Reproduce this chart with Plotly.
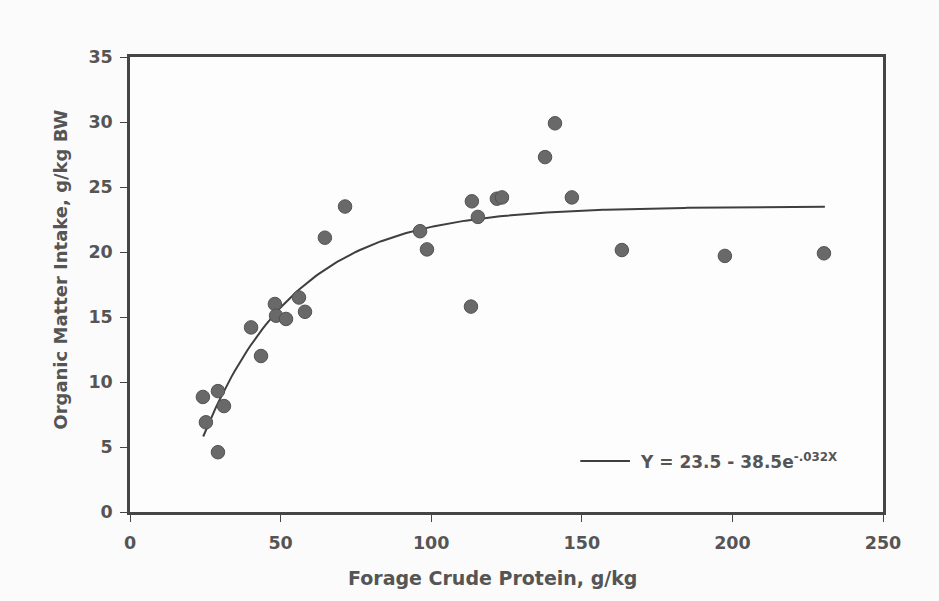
import numpy as np
import plotly.graph_objects as go

# Forage crude protein (g/kg) vs organic matter intake (g/kg BW)
crude_protein = [24.2, 25.2, 29.2, 29.2, 31.2, 40.2, 43.5, 48.1, 48.5, 51.8,
                 56.1, 58.1, 64.7, 71.4, 96.3, 98.6, 113.5, 113.2, 115.5,
                 121.8, 123.5, 137.8, 141.1, 146.7, 163.3, 197.5, 230.4]
om_intake = [8.85, 6.9, 9.3, 4.6, 8.15, 14.2, 12.0, 16.0, 15.1, 14.85,
             16.5, 15.4, 21.1, 23.5, 21.6, 20.2, 23.9, 15.8, 22.7,
             24.1, 24.2, 27.3, 29.9, 24.2, 20.15, 19.7, 19.9]

# Fitted model Y = a - b * exp(-k X)
fit_a, fit_b, fit_k = 23.5, 38.5, 0.032
fit_x = np.linspace(24.3, 230.7, 200)
fit_y = fit_a - fit_b * np.exp(-fit_k * fit_x)

x_ticks = [0, 50, 100, 150, 200, 250]
y_ticks = [0, 5, 10, 15, 20, 25, 30, 35]

ink = "#454545"
text_grey = "#555555"
sans = "DejaVu Sans, Verdana, sans-serif"

fig = go.Figure()
fig.add_trace(go.Scatter(
    x=fit_x, y=fit_y, mode="lines",
    line=dict(color="#3f3f3f", width=2),
    showlegend=False,
))
fig.add_trace(go.Scatter(
    x=crude_protein, y=om_intake, mode="markers",
    marker=dict(size=13.5, color="#696969", line=dict(color="#525252", width=1)),
    showlegend=False,
))

axis_common = dict(
    showgrid=False, zeroline=False, showline=True, mirror=True,
    linecolor=ink, linewidth=2.5, ticks="outside", ticklen=7,
    tickwidth=1.2, tickcolor=ink,
    tickfont=dict(family=sans, size=17.5, color=text_grey, weight="bold"),
)

fig.update_xaxes(range=[0, 250], tickvals=x_ticks, ticklabelstandoff=6,
                 **axis_common)
fig.update_yaxes(range=[0, 35], tickvals=y_ticks, ticklabelstandoff=4,
                 **axis_common)

fig.update_layout(
    width=939, height=601,
    margin=dict(l=130, r=56, t=57, b=89),
    paper_bgcolor="#fbfbfb", plot_bgcolor="#fdfdfd",
    showlegend=False,
    shapes=[
        # key line for the fitted-curve label
        dict(type="line", xref="paper", yref="paper",
             x0=0.598, x1=0.664, y0=0.112, y1=0.112,
             line=dict(color="#3f3f3f", width=2)),
    ],
    annotations=[
        dict(text="Y = 23.5 - 38.5e<sup>-.032X</sup>",
             xref="paper", yref="paper", x=0.675, y=0.112,
             xanchor="left", yanchor="middle", showarrow=False,
             font=dict(family=sans, size=17, color=text_grey, weight="bold")),
        dict(text="Forage Crude Protein, g/kg", xref="paper", yref="paper",
             x=0.482, y=-0.145, xanchor="center", yanchor="middle",
             showarrow=False,
             font=dict(family=sans, size=19, color=text_grey, weight="bold")),
        dict(text="Organic Matter Intake, g/kg BW", xref="paper", yref="paper",
             x=-0.092, y=0.532, xanchor="center", yanchor="middle",
             textangle=-90, showarrow=False,
             font=dict(family=sans, size=18, color=text_grey, weight="bold")),
    ],
)

fig.write_html("out.html")
